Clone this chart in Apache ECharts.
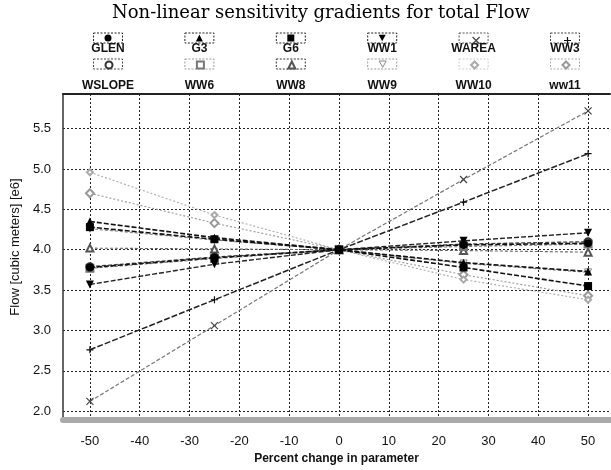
<!DOCTYPE html>
<html>
<head>
<meta charset="utf-8">
<script src="https://cdn.jsdelivr.net/npm/echarts@6/dist/echarts.min.js"></script>
<style>
html, body { margin: 0; padding: 0; background: #fff; }
#main { width: 611px; height: 470px; }
</style>
</head>
<body>
<div id="main"></div>
<script>
// percent change in parameter (x) and flow values
var pctChange = [-50, -25, 0, 25, 50];
var xTicks = [-50, -40, -30, -20, -10, 0, 10, 20, 30, 40, 50];
var yTicks = [2.0, 2.5, 3.0, 3.5, 4.0, 4.5, 5.0, 5.5];

var glen   = [3.78, 3.90, 4.00, 4.06, 4.08];
var g3     = [4.35, 4.15, 4.00, 3.84, 3.73];
var g6     = [4.28, 4.13, 4.00, 3.78, 3.55];
var ww1    = [3.57, 3.82, 4.00, 4.11, 4.21];
var warea  = [2.12, 3.06, 4.00, 4.87, 5.72];
var ww3    = [2.76, 3.38, 4.00, 4.59, 5.19];
var wslope = [3.79, 3.91, 4.00, 4.07, 4.10];
var ww6    = [3.77, 3.89, 4.00, 4.04, 4.07];
var ww8    = [4.02, 4.01, 4.00, 3.99, 3.97];
var ww9    = [4.26, 4.12, 4.00, 3.83, 3.72];
var ww10   = [4.96, 4.43, 4.00, 3.63, 3.38];
var ww11   = [4.70, 4.33, 4.00, 3.69, 3.43];

var names = ['GLEN', 'G3', 'G6', 'WW1', 'WAREA', 'WW3',
             'WSLOPE', 'WW6', 'WW8', 'WW9', 'WW10', 'ww11'];
var values = [glen, g3, g6, ww1, warea, ww3, wslope, ww6, ww8, ww9, ww10, ww11];

var DOWN = 'path://M0,0L10,0L5,9Z';
var CROSS = 'path://M0,0L10,10M10,0L0,10';
var PLUS = 'path://M5,0L5,10M0,5L10,5';

// marker / line look for each series, same order as names
var looks = [
  { symbol: 'circle',        size: 8, fill: '#000', stroke: '#000', bw: 0,   line: '#111', dash: [5, 2], lw: 1.6, frame: '#222' },
  { symbol: 'triangle',      size: 8, fill: '#000', stroke: '#000', bw: 0,   line: '#111', dash: [5, 2], lw: 1.6, frame: '#222' },
  { symbol: 'rect',          size: 8, fill: '#000', stroke: '#000', bw: 0,   line: '#111', dash: [5, 2], lw: 1.6, frame: '#222' },
  { symbol: DOWN,            size: 8, fill: '#000', stroke: '#000', bw: 0,   line: '#222', dash: [5, 2], lw: 1.4, frame: '#222' },
  { symbol: CROSS,           size: 7, fill: 'none', stroke: '#444', bw: 1.2, line: '#777', dash: [4, 2], lw: 1.2, frame: '#555' },
  { symbol: PLUS,            size: 7, fill: 'none', stroke: '#111', bw: 1.2, line: '#222', dash: [6, 2], lw: 1.5, frame: '#444' },
  { symbol: 'emptyCircle',   size: 7, fill: '#333', stroke: '#333', bw: 1,   line: '#444', dash: [4, 2], lw: 1.3, frame: '#444' },
  { symbol: 'emptyRect',     size: 7, fill: '#777', stroke: '#777', bw: 1,   line: '#777', dash: [3, 2], lw: 1.1, frame: '#999' },
  { symbol: 'emptyTriangle', size: 7, fill: '#555', stroke: '#555', bw: 1,   line: '#666', dash: [3, 2], lw: 1.1, frame: '#333' },
  { symbol: DOWN,            size: 7, fill: '#fff', stroke: '#888', bw: 1,   line: '#888', dash: [3, 2], lw: 1.1, frame: '#999' },
  { symbol: 'emptyDiamond',  size: 6, fill: '#aaa', stroke: '#aaa', bw: 1,   line: '#aaa', dash: [2, 2], lw: 1.1, frame: '#ccc' },
  { symbol: 'emptyDiamond',  size: 8, fill: '#999', stroke: '#999', bw: 1,   line: '#999', dash: [2, 2], lw: 1.1, frame: '#aaa' }
];

var colX = [108, 199.4, 290.8, 382.2, 473.6, 565];
var boxTop = [33, 59];
var labelY = [49, 86];

var series = [];
var legends = [];
var graphics = [];

names.forEach(function (name, i) {
  var lk = looks[i];
  series.push({
    name: name,
    type: 'line',
    data: pctChange.map(function (x, k) { return [x, values[i][k]]; }),
    symbol: lk.symbol,
    symbolSize: lk.size,
    showAllSymbol: true,
    lineStyle: { color: lk.line, width: lk.lw, type: lk.dash },
    itemStyle: { color: lk.fill, borderColor: lk.stroke, borderWidth: lk.bw },
    z: 20 - i
  });

  var row = i < 6 ? 0 : 1;
  var cx = colX[i % 6];
  legends.push({
    left: cx - 3.5,
    top: boxTop[row] + 1.5,
    padding: 0,
    itemWidth: 7,
    itemHeight: 7,
    itemGap: 0,
    selectedMode: false,
    formatter: function () { return ''; },
    textStyle: { fontSize: 1 },
    data: [{
      name: name,
      icon: lk.symbol,
      itemStyle: { color: lk.fill, borderColor: lk.stroke, borderWidth: lk.bw }
    }]
  });
  graphics.push({
    type: 'rect',
    shape: { x: cx - 14.5, y: boxTop[row], width: 29, height: 10 },
    style: { fill: 'none', stroke: lk.frame, lineWidth: 1, lineDash: [2, 1.5] }
  });
  graphics.push({
    type: 'text',
    x: cx,
    y: labelY[row],
    style: {
      text: name,
      align: 'center', verticalAlign: 'middle',
      textAlign: 'center', textVerticalAlign: 'middle',
      font: 'bold 12px "Liberation Sans", Arial, sans-serif',
      fill: '#111'
    }
  });
});

var gridLine = { show: true, lineStyle: { color: '#222', width: 1, type: [2, 2] } };

var myChart = echarts.init(document.getElementById('main'), null, { renderer: 'canvas' });

var option = {
  backgroundColor: '#fff',
  animation: false,
  title: {
    text: 'Non-linear sensitivity gradients for total Flow',
    left: 321,
    top: 4,
    padding: 0,
    textAlign: 'center',
    textStyle: { fontFamily: '"DejaVu Serif", "Liberation Serif", serif', fontSize: 18, fontWeight: 'normal', color: '#000' }
  },
  legend: legends,
  graphic: graphics,
  grid: { left: 63, right: 1, top: 94, bottom: 46 },
  xAxis: [{
    type: 'value',
    min: -55.4,
    max: 54.4,
    name: 'Percent change in parameter',
    nameLocation: 'middle',
    nameGap: 33,
    nameTextStyle: { fontFamily: '"Liberation Sans", Arial, sans-serif', fontSize: 12, fontWeight: 'bold', color: '#111' },
    axisLine: { show: true, onZero: false, lineStyle: { color: '#aaa', width: 6 } },
    axisTick: { show: false, customValues: xTicks },
    axisLabel: { customValues: xTicks, margin: 15, fontFamily: '"Liberation Sans", Arial, sans-serif', fontSize: 13, color: '#111' },
    splitLine: gridLine
  }, {
    type: 'value',
    position: 'top',
    min: -55.4,
    max: 54.4,
    axisLine: { show: true, onZero: false, lineStyle: { color: '#222', width: 2 } },
    axisTick: { show: false },
    axisLabel: { show: false },
    splitLine: { show: false }
  }],
  yAxis: {
    type: 'value',
    min: 1.89,
    max: 5.93,
    name: 'Flow [cubic meters] [e6]',
    nameLocation: 'middle',
    nameGap: 41,
    nameTextStyle: { fontFamily: '"Liberation Sans", Arial, sans-serif', fontSize: 13, color: '#111', padding: [0, 0, 0, 20] },
    axisLine: { show: true, onZero: false, lineStyle: { color: '#333', width: 1.5 } },
    axisTick: { show: false, customValues: yTicks },
    axisLabel: {
      customValues: yTicks,
      margin: 12,
      fontFamily: '"Liberation Sans", Arial, sans-serif',
      fontSize: 13,
      color: '#111',
      formatter: function (v) { return v.toFixed(1); }
    },
    splitLine: gridLine
  },
  series: series
};

myChart.setOption(option);
</script>
</body>
</html>
